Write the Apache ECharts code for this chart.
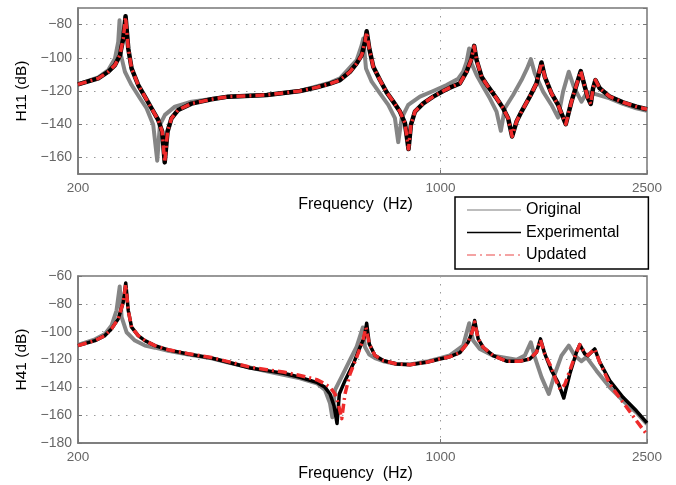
<!DOCTYPE html>
<html>
<head>
<meta charset="utf-8">
<script src="https://cdn.jsdelivr.net/npm/echarts@6/dist/echarts.min.js"></script>
<style>
html,body{margin:0;padding:0;background:#fff;}
#chart{width:676px;height:485px;}
</style>
</head>
<body>
<div id="chart"></div>
<script>
// ---------- data (frequency in Hz, magnitude in dB) ----------
const seriesNames = ['Original', 'Experimental', 'Updated'];
const xTickLabels = [200, 1000, 2500];
const yTicksTop = [-160, -140, -120, -100, -80];
const yTicksBottom = [-180, -160, -140, -120, -100, -80, -60];

// H11 – Original
const freqH11Original = [200, 218.8, 228.8, 235.7, 239.1, 240.5, 242.0, 246.3, 253.7, 263.3, 271.1, 279.3, 284.3, 287.7, 294.2, 307.5, 331.0, 389.5, 462.4, 535.9, 612.2, 639.9, 689.1, 704.6, 709.6, 718.1, 736.5, 764.1, 792.8, 816.6, 828.7, 841.3, 866.3, 912.4, 967.8, 1027.1, 1081.3, 1105.6, 1122.3, 1135.4, 1147.5, 1173.3, 1208.0, 1244.4, 1282.0, 1306.7, 1330.0, 1379.9, 1432.3, 1468.3, 1492.6, 1519.4, 1576.3, 1636.1, 1684.7, 1722.5, 1766.5, 1806.1, 1868.9, 1917.4, 1997.3, 2118.7, 2247.4, 2385.0, 2500];
const h11Original = [-116, -111.8, -107.4, -100.4, -90.4, -77.4, -98.4, -108.4, -116.4, -124.4, -130.4, -140.4, -162, -140.4, -134.4, -129.4, -126.4, -123.4, -122.4, -120, -115, -112.4, -101.4, -92.4, -88.4, -106.4, -114.4, -121.4, -128.4, -136.4, -150.8, -136.4, -128.4, -123.4, -120, -116.4, -112.6, -108.4, -102.4, -94.4, -103.4, -110.4, -117.4, -124.4, -132.4, -144, -130.4, -122.4, -113.4, -106.4, -100.8, -109.4, -120.4, -128.4, -136, -120.4, -108.4, -117.4, -126.4, -120.5, -122, -124.4, -127.8, -130.4, -132];

// H11 – Experimental
const freqH11Experimental = [200, 218.8, 228.8, 235.7, 240.9, 244.5, 247.0, 250.0, 253.7, 261.3, 269.2, 277.2, 285.5, 290.6, 293.9, 297.6, 302.9, 312.0, 331.0, 361.7, 389.5, 462.4, 535.9, 577.1, 612.2, 639.9, 668.9, 689.1, 704.6, 715.0, 720.3, 728.7, 741.8, 764.1, 787.2, 810.5, 835.0, 853.7, 867.4, 876.7, 892.4, 925.9, 967.8, 1011.7, 1042.2, 1089.5, 1122.3, 1147.5, 1160.8, 1173.3, 1199.5, 1235.1, 1282.0, 1320.1, 1349.7, 1373.8, 1400.9, 1432.3, 1486.0, 1530.8, 1565.2, 1588.2, 1636.1, 1684.7, 1743.1, 1787.8, 1827.9, 1863.0, 1896.5, 1924.4, 1947.6, 1967.6, 1988.5, 2026.9, 2118.7, 2247.4, 2385.0, 2500];
const h11Experimental = [-116, -112.4, -108.4, -104.4, -98.4, -88.4, -75, -94.4, -106.4, -116.4, -123.4, -130.4, -137.4, -144.4, -163, -144.4, -136.4, -131.4, -127.6, -125, -123.4, -122.4, -120, -117.8, -115.6, -113.4, -108.4, -103.4, -98.4, -90.4, -84, -94.4, -105.4, -113.4, -120.8, -126.4, -132.4, -139.4, -155, -140.4, -132.4, -127.4, -123.4, -120, -118, -115.4, -108.4, -100.4, -92.8, -101.4, -111.4, -117.4, -124.4, -130.4, -136.4, -147.4, -138.4, -132.4, -123.4, -115.4, -102.8, -111.4, -121.4, -128.4, -140, -126.4, -116.4, -108, -117.4, -124.4, -127.8, -118.4, -113.4, -118.4, -123.4, -126.8, -129.4, -131];

// H11 – Updated
const freqH11Updated = [200, 218.8, 228.8, 235.7, 240.9, 244.5, 247.0, 250.0, 253.7, 261.3, 269.2, 277.2, 285.5, 290.6, 293.9, 297.6, 302.9, 312.0, 331.0, 361.7, 389.5, 462.4, 535.9, 577.1, 612.2, 639.9, 668.9, 689.1, 704.6, 715.0, 720.3, 728.7, 741.8, 764.1, 787.2, 810.5, 835.0, 853.7, 867.4, 876.7, 892.4, 925.9, 967.8, 1011.7, 1042.2, 1089.5, 1122.3, 1147.5, 1160.8, 1173.3, 1199.5, 1235.1, 1282.0, 1320.1, 1349.7, 1373.8, 1400.9, 1432.3, 1486.0, 1530.8, 1565.2, 1588.2, 1636.1, 1684.7, 1743.1, 1787.8, 1827.9, 1863.0, 1896.5, 1924.4, 1947.6, 1967.6, 1988.5, 2026.9, 2118.7, 2247.4, 2385.0, 2500];
const h11Updated = [-116, -112.4, -108.4, -104.4, -98.4, -88.4, -75.5, -94.4, -106.4, -116.4, -123.4, -130.4, -137.4, -144.4, -163, -144.4, -136.4, -131.4, -127.6, -125, -123.4, -122.4, -120, -117.8, -115.6, -113.4, -108.4, -103.4, -98.4, -90.4, -84.5, -94.4, -105.4, -113.4, -120.8, -126.4, -132.4, -139.4, -155, -140.4, -132.4, -127.4, -123.4, -120, -118, -115.4, -108.4, -100.4, -93, -101.4, -111.4, -117.4, -124.4, -130.4, -136.4, -147.4, -138.4, -132.4, -123.4, -115.4, -103, -111.4, -121.4, -128.4, -140, -126.4, -116.4, -108, -117.4, -124.4, -127.8, -118.4, -113.4, -118.4, -123.4, -126.8, -129.4, -131];

// H41 – Original
const freqH41Original = [200, 215.7, 225.4, 232.1, 237.3, 240.7, 242.7, 248.1, 257.5, 269.2, 281.4, 298.5, 326.2, 361.7, 389.5, 462.4, 535.9, 577.1, 598.7, 612.2, 618.4, 625.9, 644.8, 668.9, 689.1, 708.0, 715.0, 728.7, 747.4, 775.4, 822.8, 872.8, 940.0, 997.1, 1042.2, 1105.6, 1135.4, 1155.6, 1190.4, 1262.9, 1400.9, 1453.4, 1492.6, 1519.4, 1565.2, 1616.7, 1660.3, 1710.3, 1766.5, 1814.1, 1868.9, 1910.5, 1997.3, 2118.7, 2247.4, 2385.0, 2500];
const h41Original = [-109.5, -105.5, -101.6, -95.6, -84.8, -67.5, -89.6, -100.4, -106.4, -110, -111.5, -113.8, -116.5, -119.2, -122.2, -128.5, -133.5, -137.1, -141.9, -151.5, -161.5, -141.9, -132.3, -120.3, -110.8, -97, -111, -116.5, -119, -121.2, -123.2, -123.5, -121.5, -119, -117, -110, -93.9, -106.4, -112.4, -117.2, -120.2, -117.2, -107.6, -118.3, -132.7, -144.7, -130.4, -117.2, -110, -117.2, -121.2, -118.3, -128, -140, -149.6, -158, -166.5];

// H41 – Experimental
const freqH41Experimental = [200, 215.7, 225.4, 232.1, 239.1, 244.5, 247.2, 250.0, 253.7, 261.3, 269.2, 281.4, 298.5, 326.2, 361.7, 389.5, 429.4, 462.4, 497.7, 535.9, 577.1, 598.7, 612.2, 623.1, 631.5, 637.9, 654.3, 678.8, 699.3, 712.7, 720.3, 728.7, 747.4, 775.4, 822.8, 872.8, 940.0, 997.1, 1042.2, 1089.5, 1130.3, 1152.6, 1163.3, 1181.6, 1208.0, 1262.9, 1340.2, 1421.6, 1486.0, 1530.8, 1558.1, 1588.2, 1636.1, 1684.7, 1727.9, 1774.5, 1827.9, 1854.8, 1896.5, 1924.4, 1982.4, 2026.9, 2118.7, 2247.4, 2385.0, 2500];
const h41Experimental = [-110, -106.4, -102.8, -98, -90.8, -78.8, -65, -84.8, -96.8, -102.8, -106.4, -110, -113.1, -116, -118.9, -122, -126.1, -128, -129.9, -132.8, -136.4, -140, -144.8, -153.2, -166, -144.8, -135.2, -123.1, -111.2, -104, -94, -108.8, -117.2, -120.7, -123.2, -123.7, -122, -119.6, -118, -115, -107.6, -99.2, -92, -105.2, -111.2, -117.2, -121.2, -121.2, -119.6, -114.8, -105.2, -116, -128, -136.4, -147.7, -130.4, -114.8, -109.3, -116, -117.2, -112.4, -121.9, -135.2, -147.2, -156.9, -165.5];

// H41 – Updated
const freqH41Updated = [200, 215.7, 225.4, 232.1, 239.1, 244.5, 247.2, 250.0, 253.7, 261.3, 269.2, 281.4, 298.5, 326.2, 361.7, 389.5, 429.4, 462.4, 497.7, 535.9, 577.1, 598.7, 612.2, 625.9, 635.1, 644.8, 654.3, 668.9, 689.1, 709.6, 718.1, 728.7, 747.4, 775.4, 822.8, 872.8, 940.0, 997.1, 1042.2, 1089.5, 1130.3, 1152.6, 1163.3, 1181.6, 1208.0, 1262.9, 1340.2, 1421.6, 1486.0, 1530.8, 1558.1, 1588.2, 1636.1, 1672.8, 1701.1, 1735.5, 1774.5, 1827.9, 1854.8, 1896.5, 1924.4, 1982.4, 2026.9, 2118.7, 2247.4, 2385.0, 2500];
const h41Updated = [-110, -106.4, -102.8, -98, -90.8, -78.8, -66, -84.8, -96.8, -102.8, -106.4, -110, -113, -115.8, -118.6, -121.5, -125.5, -127.3, -129, -131.5, -134.5, -137.5, -140, -144.8, -152, -162.5, -144.8, -130.4, -118.4, -105.2, -97, -108.8, -117.2, -120.7, -123.2, -123.7, -122, -119.6, -118, -115, -107.6, -99.2, -93, -105.2, -111.2, -117.2, -121.2, -121.2, -119.6, -114.8, -106, -116, -126, -136, -141.5, -138, -128, -114.8, -109.3, -115, -117, -112.4, -122, -137.6, -150.8, -164, -174];

// ---------- helpers ----------
function pairs(xs, ys) { return xs.map((x, i) => [x, ys[i]]); }
const minus = v => String(v).replace('-', '\u2212');
const FONT = '"Liberation Sans", Arial, sans-serif';
const dotted = { color: '#9a9a9a', width: 1, type: [1.5, 6.5] };
const grayC = '#858585', blackC = '#000000', redC = '#ee2b2b';
const dashDot = [9, 4, 2, 4];

const grids = [
  { left: 78, right: 29, top: 8, height: 166, show: true, borderColor: '#777', borderWidth: 1.5, backgroundColor: '#fff' },
  { left: 78, right: 29, top: 276, height: 167, show: true, borderColor: '#777', borderWidth: 1.5, backgroundColor: '#fff' }
];

function xAxisFor(g) {
  return {
    type: 'log', logBase: 10, gridIndex: g, min: 200, max: 2500,
    name: 'Frequency  (Hz)', nameLocation: 'middle', nameGap: 23,
    nameTextStyle: { color: '#000', fontSize: 16, fontFamily: FONT, padding: [0, 14, 0, 0] },
    axisLine: { show: true, lineStyle: { color: '#777', width: 1.5 } },
    axisTick: { show: true, inside: true, length: 4, lineStyle: { color: '#777' } },
    minorTick: { show: false },
    axisLabel: {
      color: '#666', fontSize: 13.5, fontFamily: FONT, margin: 7,
      showMinLabel: true, showMaxLabel: true,
      formatter: v => { const r = xTickLabels.find(t => Math.abs(t - v) / t < 0.01); return r === undefined ? '' : String(r); }
    },
    splitLine: { show: true, lineStyle: dotted }
  };
}

function yAxisFor(g, name, min, max, ticks, auto) {
  const ax = {
    type: 'value', gridIndex: g, min: min, max: max,
    name: name, nameLocation: 'middle', nameGap: 46,
    nameTextStyle: { color: '#000', fontSize: 15.5, fontFamily: FONT },
    axisLine: { show: true, lineStyle: { color: '#777', width: 1.5 } },
    axisTick: { show: true, inside: true, length: 4, lineStyle: { color: '#777' } },
    axisLabel: {
      color: '#666', fontSize: 14, fontFamily: FONT, margin: 6,
      formatter: v => ticks.indexOf(Math.round(v)) >= 0 ? minus(Math.round(v)) : ''
    },
    splitLine: { show: true, lineStyle: dotted }
  };
  if (auto) { ax.splitNumber = 5; ax.axisLabel.showMinLabel = false; ax.axisLabel.showMaxLabel = false; }
  else { ax.interval = 20; }
  return ax;
}
function yRightFor(g, min, max, auto) {
  const ax = {
    type: 'value', gridIndex: g, min: min, max: max, position: 'right',
    axisLine: { show: false }, axisLabel: { show: false }, splitLine: { show: false },
    axisTick: { show: true, inside: true, length: 4, lineStyle: { color: '#777' } }
  };
  if (auto) ax.splitNumber = 5; else ax.interval = 20;
  return ax;
}

function lineSeries(name, xi, yi, data, color, width, type, z) {
  return {
    name: name, type: 'line', xAxisIndex: xi, yAxisIndex: yi, data: data,
    showSymbol: false, symbol: 'none', smooth: false, z: z,
    lineStyle: { color: color, width: width, type: type, cap: 'butt', join: 'round' },
    itemStyle: { color: color },
    emphasis: { disabled: true }, animation: false
  };
}

const hiddenSymbol = { opacity: 0, color: 'rgba(0,0,0,0)', borderWidth: 0 };

const chart = echarts.init(document.getElementById('chart'), null, { renderer: 'canvas' });
chart.setOption({
  animation: false,
  backgroundColor: '#fff',
  grid: grids,
  xAxis: [xAxisFor(0), xAxisFor(1)],
  yAxis: [
    yAxisFor(0, 'H11 (dB)', -170, -70, yTicksTop, true),
    yAxisFor(1, 'H41 (dB)', -180, -60, yTicksBottom, false),
    yRightFor(0, -170, -70, true),
    yRightFor(1, -180, -60, false)
  ],
  legend: {
    orient: 'vertical', left: 455, top: 197,
    padding: [4, 29, 5, 11], itemGap: 4.5, itemWidth: 54, itemHeight: 14,
    backgroundColor: '#fff', borderColor: '#000', borderWidth: 1.5,
    textStyle: { color: '#000', fontSize: 16, fontFamily: FONT, lineHeight: 18 },
    selectedMode: false,
    itemStyle: hiddenSymbol,
    data: [
      { name: seriesNames[0], itemStyle: hiddenSymbol, lineStyle: { color: '#bdbdbd', width: 2, type: 'solid' } },
      { name: seriesNames[1], itemStyle: hiddenSymbol, lineStyle: { color: '#000', width: 1.5, type: 'solid' } },
      { name: seriesNames[2], itemStyle: hiddenSymbol, lineStyle: { color: '#f4a3a3', width: 2, type: dashDot } }
    ]
  },
  series: [
    lineSeries(seriesNames[0], 0, 0, pairs(freqH11Original, h11Original), grayC, 4, 'solid', 2),
    lineSeries(seriesNames[1], 0, 0, pairs(freqH11Experimental, h11Experimental), blackC, 4.5, 'solid', 3),
    lineSeries(seriesNames[2], 0, 0, pairs(freqH11Updated, h11Updated), redC, 3.5, dashDot, 4),
    lineSeries(seriesNames[0], 1, 1, pairs(freqH41Original, h41Original), grayC, 4, 'solid', 2),
    lineSeries(seriesNames[1], 1, 1, pairs(freqH41Experimental, h41Experimental), blackC, 3.5, 'solid', 3),
    lineSeries(seriesNames[2], 1, 1, pairs(freqH41Updated, h41Updated), redC, 3.5, dashDot, 4)
  ]
});
</script>
</body>
</html>
